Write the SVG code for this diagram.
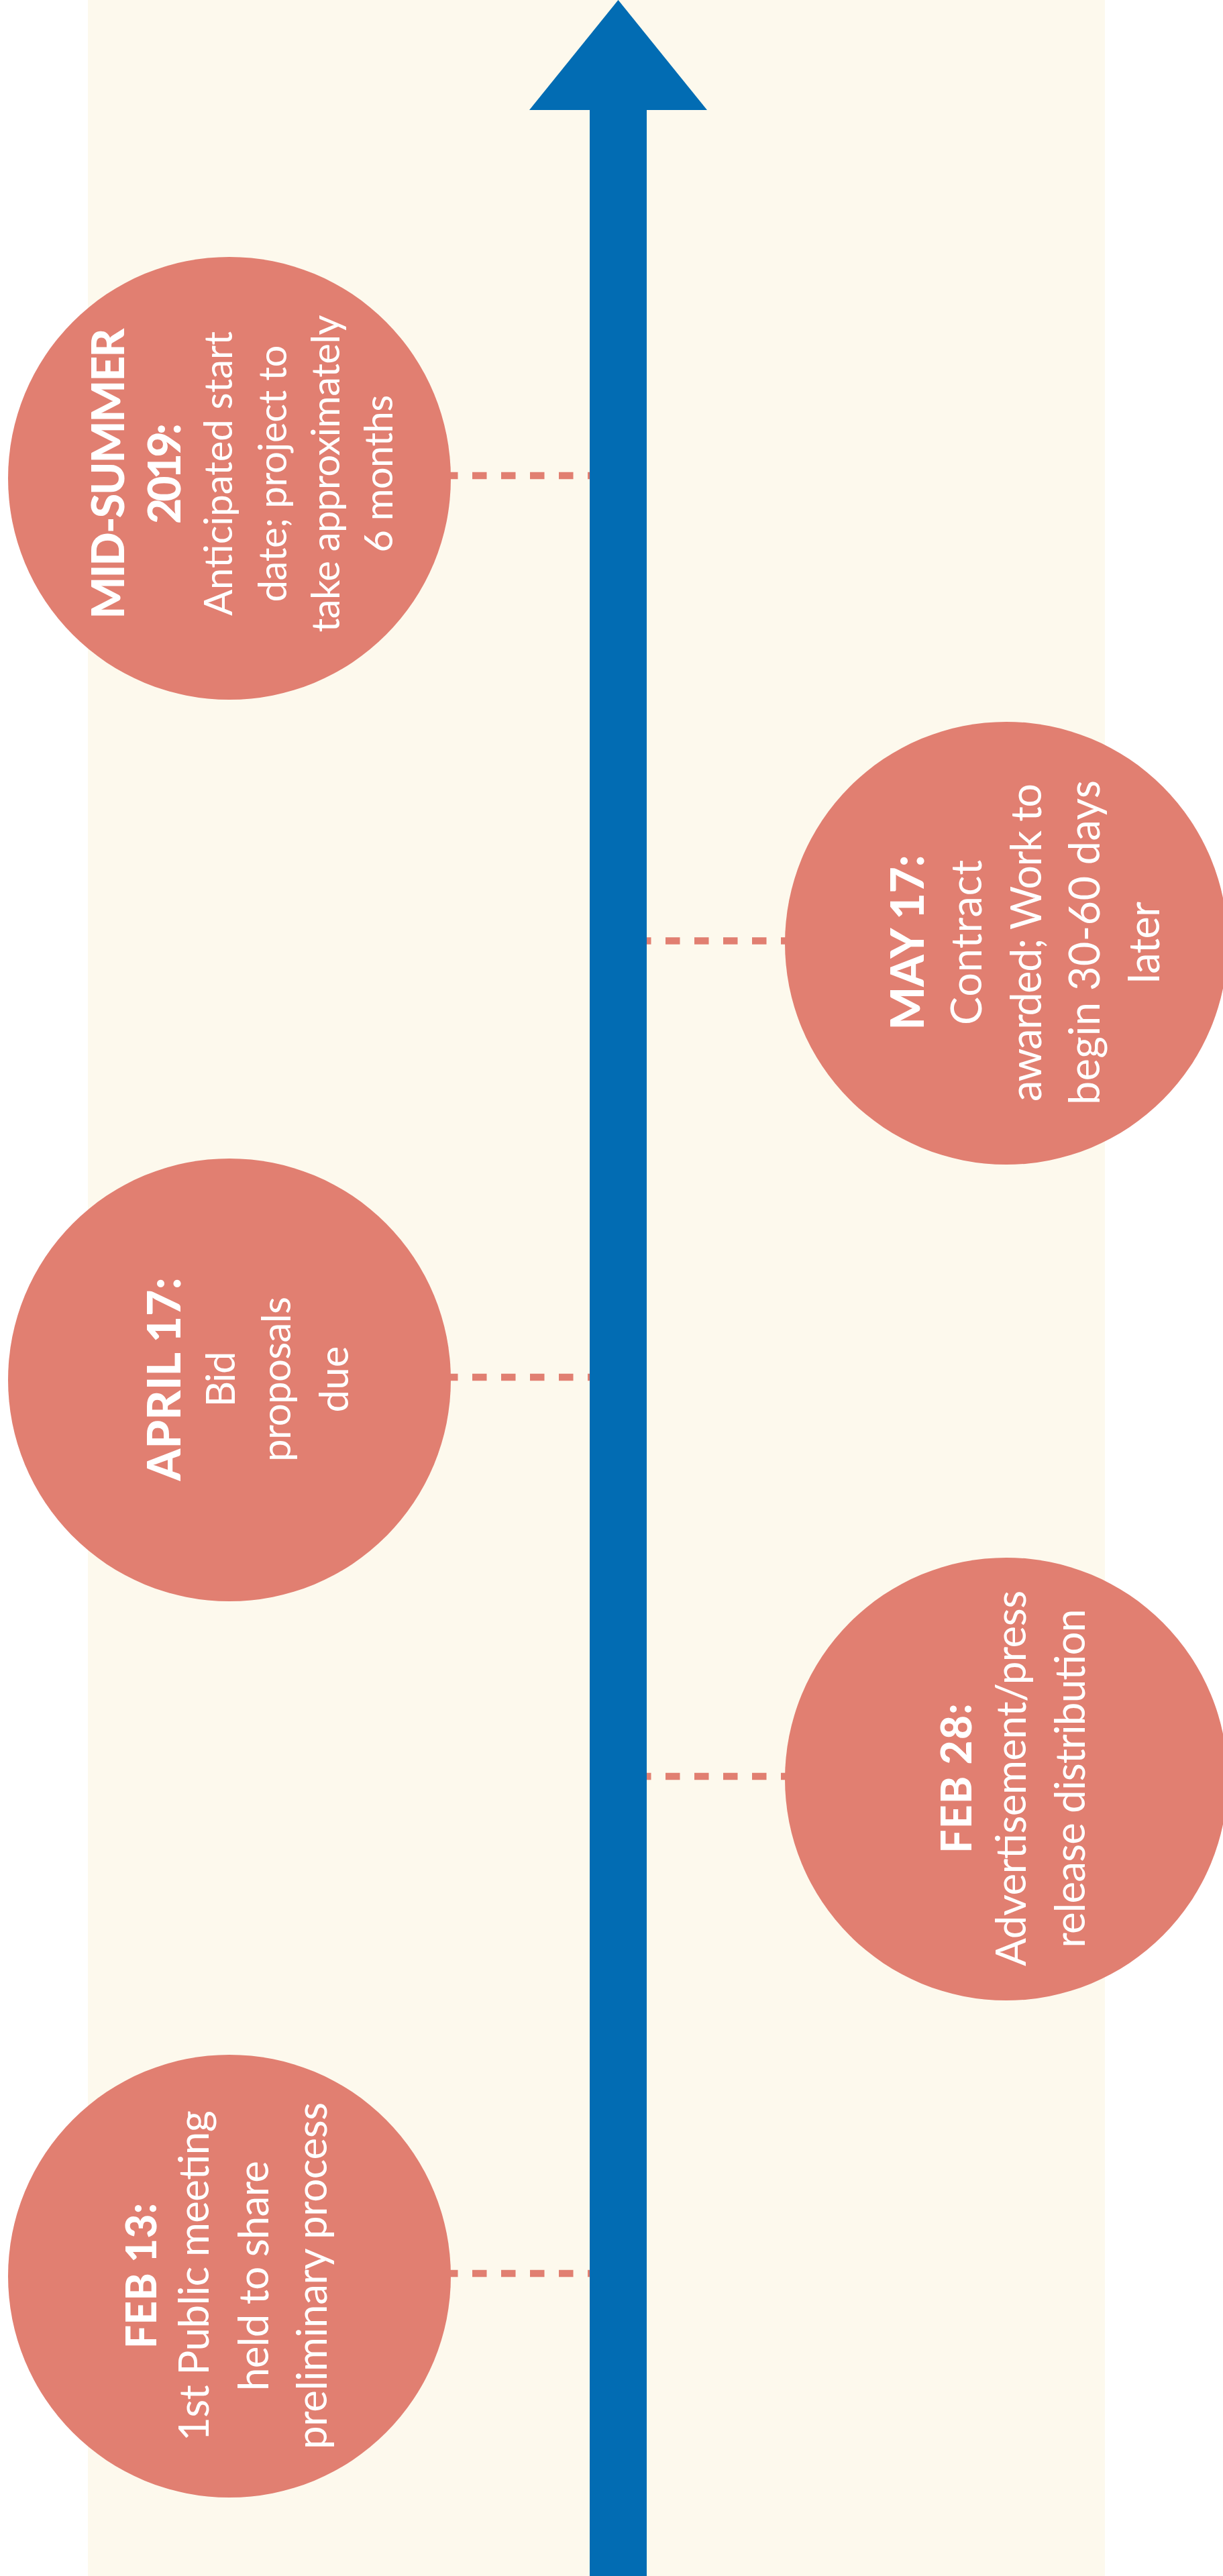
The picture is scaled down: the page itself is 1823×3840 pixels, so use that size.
<svg xmlns="http://www.w3.org/2000/svg" width="1823" height="3840" viewBox="0 0 1823 3840">
  <style>
    .band { fill: #FDF9ED; }
    .arrow { fill: #026CB3; }
    .dot { fill: #E17F71; }
    .link { stroke: #E17F71; stroke-width: 10.5; stroke-dasharray: 21.5 21.5; fill: none; }
    .head { font-family: Lato, "Liberation Sans", sans-serif; font-weight: 900; fill: #FFFFFF; text-anchor: middle; }
    .body { font-family: Lato, "Liberation Sans", sans-serif; font-weight: 400; fill: #FFFFFF; text-anchor: middle; }
  </style>

  <rect width="1823" height="3840" fill="#FFFFFF"/>
  <rect class="band" x="131" y="0" width="1516" height="3840"/>

  <!-- dotted ties from each milestone to the timeline -->
  <g id="connectors">
    <line class="link" x1="661" y1="709" x2="900" y2="709"/>
    <line class="link" x1="949" y1="1402.5" x2="1190" y2="1402.5"/>
    <line class="link" x1="661" y1="2053" x2="900" y2="2053"/>
    <line class="link" x1="949" y1="2648" x2="1190" y2="2648"/>
    <line class="link" x1="661" y1="3389" x2="900" y2="3389"/>
  </g>

  <!-- timeline arrow pointing up -->
  <g id="timeline">
    <rect class="arrow" x="879" y="163" width="85" height="3677"/>
    <polygon class="arrow" points="921.5,0 1054,164 789,164"/>
  </g>

  <g id="node-midsummer">
    <circle class="dot" cx="342" cy="713" r="330"/>
    <g transform="translate(342,706) rotate(-90)">
      <text class="head" font-size="66" x="0" y="-157" textLength="433" lengthAdjust="spacing">MID-SUMMER</text>
      <text class="head" font-size="66" x="0" y="-73" textLength="150" lengthAdjust="spacing">2019:</text>
      <text class="body" font-size="58" x="0" y="4" textLength="424" lengthAdjust="spacing">Anticipated start</text>
      <text class="body" font-size="58" x="0" y="85" textLength="383" lengthAdjust="spacing">date; project to</text>
      <text class="body" font-size="58" x="0" y="164" textLength="473" lengthAdjust="spacing">take approximately</text>
      <text class="body" font-size="58" x="0" y="243" textLength="235" lengthAdjust="spacing">6 months</text>
    </g>
  </g>

  <g id="node-may17">
    <circle class="dot" cx="1500" cy="1406" r="330"/>
    <g transform="translate(1500,1405) rotate(-90)">
      <text class="head" font-size="68" x="0" y="-123" textLength="261" lengthAdjust="spacing">MAY 17:</text>
      <text class="body" font-size="63" x="0" y="-37.5" textLength="246" lengthAdjust="spacing">Contract</text>
      <text class="body" font-size="63" x="0" y="52" textLength="474" lengthAdjust="spacing">awarded; Work to</text>
      <text class="body" font-size="63" x="0" y="139" textLength="484" lengthAdjust="spacing">begin 30-60 days</text>
      <text class="body" font-size="63" x="0" y="228" textLength="122" lengthAdjust="spacing">later</text>
    </g>
  </g>

  <g id="node-april17">
    <circle class="dot" cx="342" cy="2057" r="330"/>
    <g transform="translate(342,2056) rotate(-90)">
      <text class="head" font-size="68" x="0" y="-73" textLength="303" lengthAdjust="spacing">APRIL 17:</text>
      <text class="body" font-size="60" x="0" y="8" textLength="83" lengthAdjust="spacing">Bid</text>
      <text class="body" font-size="60" x="0" y="91" textLength="246" lengthAdjust="spacing">proposals</text>
      <text class="body" font-size="60" x="0" y="177" textLength="99" lengthAdjust="spacing">due</text>
    </g>
  </g>

  <g id="node-feb28">
    <circle class="dot" cx="1500" cy="2652" r="330"/>
    <g transform="translate(1500,2651) rotate(-90)">
      <text class="head" font-size="62" x="0" y="-52" textLength="223" lengthAdjust="spacing">FEB 28:</text>
      <text class="body" font-size="62" x="0" y="28.6" textLength="560" lengthAdjust="spacing">Advertisement/press</text>
      <text class="body" font-size="62" x="0" y="116.5" textLength="505" lengthAdjust="spacing">release distribution</text>
    </g>
  </g>

  <g id="node-feb13">
    <circle class="dot" cx="342" cy="3393" r="330"/>
    <g transform="translate(342,3392.5) rotate(-90)">
      <text class="head" font-size="62" x="0" y="-109" textLength="217" lengthAdjust="spacing">FEB 13:</text>
      <text class="body" font-size="62" x="0" y="-31" textLength="493" lengthAdjust="spacing">1st Public meeting</text>
      <text class="body" font-size="62" x="0" y="57.5" textLength="343" lengthAdjust="spacing">held to share</text>
      <text class="body" font-size="62" x="0" y="144.6" textLength="517" lengthAdjust="spacing">preliminary process</text>
    </g>
  </g>
</svg>
